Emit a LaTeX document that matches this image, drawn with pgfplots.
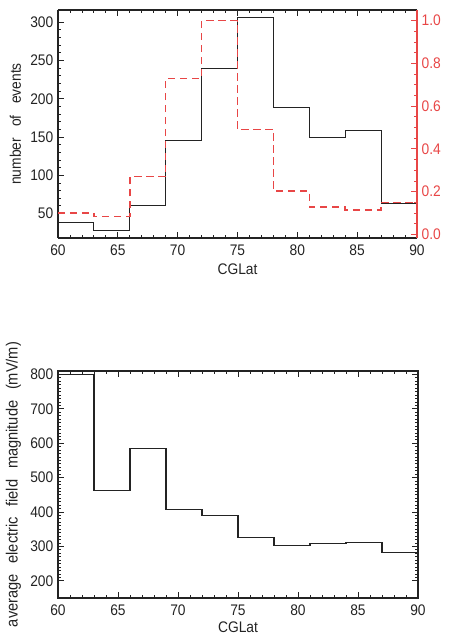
\documentclass[border=0pt]{standalone}
\usepackage{fontspec}
\setmainfont[FakeStretch=0.9]{Liberation Sans}
\usepackage{pgfplots}
\pgfplotsset{compat=1.18}
\definecolor{idlred}{RGB}{232,70,70}
\definecolor{idlblk}{RGB}{35,35,35}
\newcommand{\lbl}{\fontsize{11.5}{13}\selectfont}
\newcommand{\lblb}{\fontsize{12.2}{14}\selectfont}
\begin{document}
\begin{tikzpicture}
\pgfplotsset{
  idl/.style={scale only axis,
    /pgf/number format/assume math mode=true,
    tick align=inside, major tick length=4.5pt, minor tick length=2.25pt,
    every tick/.style={line width=0.6pt, idlblk},
    ticklabel style={font=\lbl, text=idlblk}, label style={font=\lbl, text=idlblk},
    axis line style={line width=0.8pt, idlblk},
    xmin=60, xmax=90, xtick={60,65,...,90}, minor x tick num=4,
    xticklabel style={yshift=-1.5pt},
  }
}
% ---------- top panel: number of events ----------
\begin{axis}[idl, at={(0,0)}, anchor=north west,
  width=269.25pt, height=171pt,
  ymin=18, ymax=316, ytick={50,100,150,200,250,300}, minor y tick num=4,
  axis y line*=left, axis x line*=box,
  xlabel={CGLat}, xlabel style={yshift=1pt},
  ylabel={number\hspace{8.5pt}of\hspace{8.5pt}events}]
\addplot[const plot, idlblk, line width=0.8pt] coordinates {
 (60,38) (63,28) (66,60) (69,146) (72,240) (75,306) (78,188) (81,149) (84,158) (87,63) (90,63)};
\end{axis}
\begin{axis}[idl, at={(0,0)}, anchor=north west,
  width=269.25pt, height=171pt,
  ymin=-0.017, ymax=1.05, ytick={0,0.2,0.4,0.6,0.8,1}, minor y tick num=3,
  axis y line*=right, axis x line=none,
  y axis line style={idlred, line width=0.8pt},
  every y tick/.style={line width=0.6pt, idlred},
  yticklabel style={text=idlred, /pgf/number format/.cd, fixed, fixed zerofill, precision=1}]
\addplot[const plot, idlred, line width=1.1pt, dash pattern=on 5.5pt off 3.5pt] coordinates {
 (60,0.101) (63,0.083) (66,0.27) (69,0.729) (72,1.0) (75,0.49) (78,0.204) (81,0.129) (84,0.114) (87,0.15) (90,0.15)};
\end{axis}
% ---------- bottom panel: average electric field ----------
\begin{axis}[idl, at={(0,-270.75pt)}, anchor=north west,
  width=270pt, height=170.25pt,
  ylabel style={font=\lblb},
  xticklabel style={inner sep=1pt, yshift=-2.5pt},
  ymin=150, ymax=810, ytick={200,300,...,800}, minor y tick num=9,
  xlabel={CGLat},
  xlabel style={font=\lbl, at={(axis description cs:0.5,0)}, anchor=north, inner sep=0.5pt, yshift=-16.8pt},
  ylabel={average\hspace{8pt}electric\hspace{8pt}field\hspace{8pt}magnitude\hspace{8pt}(mV/m)}]
\addplot[const plot, idlblk, line width=0.8pt] coordinates {
 (60,800) (63,463) (66,586) (69,406) (72,389) (75,326) (78,302) (81,309) (84,312) (87,283) (90,283)};
\end{axis}
\pgfresetboundingbox
\path[use as bounding box] (-43.5pt,7.5pt) rectangle (294.75pt,-468.75pt);
\end{tikzpicture}
\end{document}
